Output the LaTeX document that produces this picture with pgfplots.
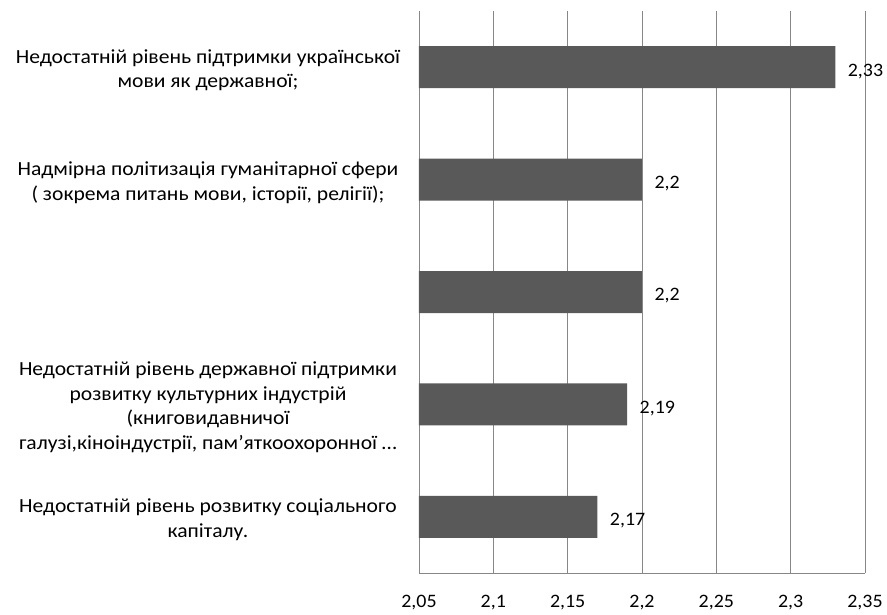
\documentclass[border=0pt]{standalone}
\usepackage{pgfplots}
\pgfplotsset{compat=1.18}
\usepackage{fontspec}
\setmainfont{Carlito}
\newfontfamily\lblfont[FakeStretch=1.08]{Carlito}
\newfontfamily\numfont[FakeStretch=1.05]{Carlito}
\definecolor{barc}{HTML}{595959}
\definecolor{gridc}{HTML}{878787}
\begin{document}
\begin{tikzpicture}
\begin{axis}[
  name=ax,
  scale only axis,
  width=446pt, height=562pt,
  xbar, bar width=42pt,
  xmin=2.05, xmax=2.35,
  ymin=-0.5, ymax=4.5,
  y dir=reverse,
  axis x line=bottom, axis y line=left,
  axis line style={draw=gridc, line width=0.8pt, -},
  xmajorgrids, grid style={draw=gridc, line width=0.8pt},
  major tick length=0pt,
  xtick={2.05,2.1,2.15,2.2,2.25,2.3,2.35},
  xticklabels={{2,05},{2,1},{2,15},{2,2},{2,25},{2,3},{2,35}},
  xticklabel style={font=\numfont\fontsize{19}{22}\selectfont, yshift=-19pt},
  ytick={0,1,2,3,4},
  yticklabels={
    {Недостатній рівень підтримки української\\мови як державної;},
    {Надмірна політизація гуманітарної сфери\\( зокрема питань мови, історії, релігії);},
    {},
    {Недостатній рівень державної підтримки\\розвитку культурних індустрій\\(книговидавничої\\галузі,кіноіндустрії, пам’яткоохоронної …},
    {Недостатній рівень розвитку соціального\\капіталу.}},
  yticklabel style={font=\lblfont\fontsize{20}{24.7}\selectfont, align=center, anchor=center, xshift=-211pt, yshift=-3pt},
  /pgf/number format/assume math mode=true,
  point meta=x,
  nodes near coords={\pgfmathprintnumber[use comma]{\pgfplotspointmeta}},
  nodes near coords style={font=\numfont\fontsize{19}{22}\selectfont, anchor=west, xshift=9pt, yshift=-4pt, text=black},
  clip=false,
]
\addplot[fill=barc, draw=none] coordinates {(2.33,0) (2.2,1) (2.2,2) (2.19,3) (2.17,4)};
\end{axis}
\path[use as bounding box] ([xshift=-419pt,yshift=-42pt]ax.south west) rectangle ([xshift=22pt,yshift=11pt]ax.north east);
\end{tikzpicture}
\end{document}
